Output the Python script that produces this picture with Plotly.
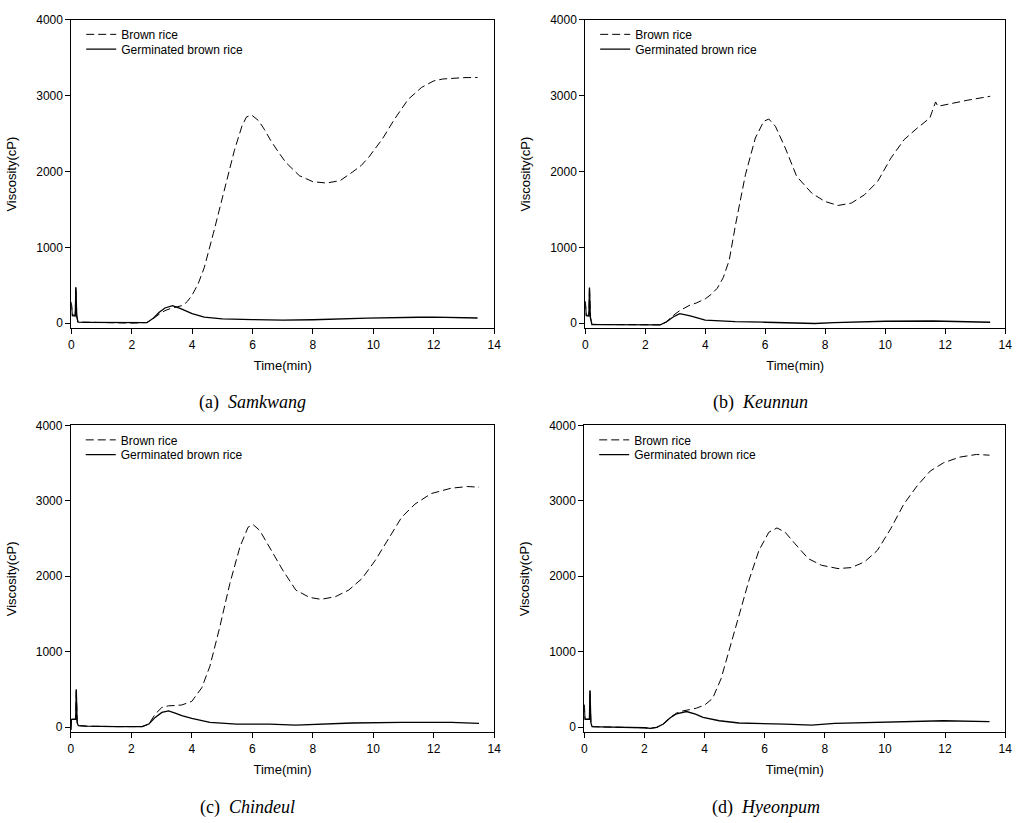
import plotly.graph_objects as go

# ---------------- data ----------------
t_a_br = [0, 0.03, 0.13, 0.15, 0.18, 0.22, 0.5, 1.0, 1.5, 2.0, 2.5, 2.7, 2.9, 3.1, 3.3, 3.5, 3.7, 3.85, 4.0,
          4.2, 4.4, 4.7, 5.0, 5.2, 5.4, 5.65, 5.8, 5.97, 6.2, 6.4, 6.6, 6.85, 7.1, 7.55, 8.0, 8.45, 8.9,
          9.3, 9.6, 9.85, 10.3, 10.7, 11.15, 11.6, 12.0, 12.3, 12.6, 13.0, 13.45]
v_a_br = [280, 110, 105, 480, 95, 15, 12, 10, 5, 0, 8, 55, 115, 165, 195, 210, 235, 290, 370,
          520, 730, 1180, 1650, 1950, 2280, 2600, 2720, 2745, 2670, 2550, 2410, 2260, 2120, 1945, 1865, 1848, 1880,
          1990, 2080, 2190, 2430, 2690, 2950, 3110, 3195, 3220, 3232, 3238, 3240]
t_a_gbr = [0, 0.03, 0.13, 0.15, 0.18, 0.22, 0.5, 1.0, 1.5, 2.0, 2.5, 2.7, 2.9, 3.1, 3.35, 3.6, 3.8, 4.0,
           4.4, 5.0, 6.0, 7.0, 8.0, 8.8, 9.8, 11.5, 12.0, 13.45]
v_a_gbr = [260, 100, 95, 470, 90, 12, 10, 8, 3, -2, 6, 60, 140, 200, 230, 195, 155, 125,
           80, 57, 47, 40, 45, 55, 65, 78, 80, 68]

t_b_br = [0, 0.03, 0.12, 0.14, 0.17, 0.22, 0.5, 1.0, 1.5, 2.0, 2.5, 2.7, 2.93, 3.15, 3.36, 3.5, 3.7, 3.85, 4.0,
          4.2, 4.4, 4.6, 4.8, 5.01, 5.34, 5.67, 5.95, 6.12, 6.34, 6.67, 7.05, 7.55, 7.99, 8.43, 8.87, 9.31, 9.75,
          10.19, 10.63, 11.07, 11.49, 11.57, 11.68, 11.76, 12.18, 12.73, 13.5]
v_b_br = [290, 105, 100, 482, 80, -15, -18, -20, -22, -25, -22, 15, 100, 165, 215, 240, 265, 290, 320,
          380, 460, 600, 830, 1297, 1958, 2441, 2662, 2692, 2596, 2309, 1935, 1715, 1605, 1552, 1583, 1693, 1869,
          2177, 2420, 2573, 2706, 2794, 2917, 2860, 2895, 2939, 2992]
t_b_gbr = [0, 0.03, 0.12, 0.14, 0.17, 0.22, 0.5, 1.0, 1.5, 2.0, 2.5, 2.7, 2.93, 3.15, 3.36, 3.5,
           4.0, 4.5, 5.0, 6.0, 6.7, 7.66, 8.3, 9.0, 10.0, 11.6, 12.5, 13.5]
v_b_gbr = [280, 100, 95, 470, 75, -18, -20, -22, -24, -25, -22, 15, 81, 125, 108, 95,
           40, 28, 20, 12, 8, -5, 8, 15, 25, 28, 22, 12]

t_c_br = [0, 0.02, 0.16, 0.18, 0.21, 0.25, 0.5, 1.0, 1.5, 2.0, 2.36, 2.58, 2.79, 3.01, 3.23, 3.45, 3.67, 4.0, 4.33,
          4.6, 4.93, 5.26, 5.59, 5.86, 6.03, 6.25, 6.57, 7.01, 7.44, 7.89, 8.27, 8.75, 9.19, 9.63, 10.07,
          10.5, 10.94, 11.38, 11.92, 12.58, 13.13, 13.5]
v_c_br = [-40, 105, 105, 509, 60, 18, 12, 6, 5, 5, 5, 39, 171, 259, 281, 285, 292, 340, 520,
          807, 1333, 1904, 2386, 2649, 2684, 2605, 2386, 2079, 1816, 1719, 1693, 1728, 1816, 1969, 2211,
          2496, 2781, 2956, 3096, 3167, 3189, 3180]
t_c_gbr = [0, 0.02, 0.16, 0.18, 0.21, 0.25, 0.5, 1.0, 1.5, 2.0, 2.36, 2.58, 2.79, 3.01, 3.23, 3.45, 3.67, 4.0,
           4.6, 5.48, 6.57, 7.44, 8.2, 9.3, 10.94, 12.58, 13.5]
v_c_gbr = [-40, 100, 100, 500, 55, 18, 12, 6, 5, 5, 5, 39, 127, 193, 213, 185, 150, 114,
           61, 39, 39, 25, 39, 53, 61, 61, 48]

t_d_br = [0, 0.02, 0.17, 0.19, 0.22, 0.26, 0.5, 1.0, 1.5, 2.0, 2.2, 2.41, 2.63, 2.85, 3.07, 3.29, 3.5, 3.73, 4.0,
          4.27, 4.55, 4.82, 5.15, 5.48, 5.81, 6.14, 6.41, 6.68, 7.01, 7.45, 7.89, 8.44, 8.88, 9.32, 9.75,
          10.19, 10.63, 11.07, 11.51, 11.95, 12.49, 13.04, 13.48]
v_d_br = [300, 105, 105, 487, 60, 5, 2, 0, -3, -10, -17, -5, 39, 127, 185, 215, 230, 250, 290,
          380, 640, 1026, 1509, 1947, 2342, 2583, 2640, 2583, 2430, 2233, 2145, 2101, 2114, 2189, 2342,
          2627, 2956, 3197, 3395, 3504, 3579, 3614, 3605]
t_d_gbr = [0, 0.02, 0.17, 0.19, 0.22, 0.26, 0.5, 1.0, 1.5, 2.0, 2.2, 2.41, 2.63, 2.85, 3.07, 3.4, 3.7, 3.95,
           4.49, 5.15, 6.68, 7.56, 8.33, 9.97, 11.95, 13.48]
v_d_gbr = [290, 100, 100, 480, 55, 5, 2, 0, -3, -10, -17, -5, 39, 120, 175, 205, 170, 127,
           83, 53, 39, 25, 48, 61, 83, 70]

series_names = ["Brown rice", "Germinated brown rice"]
panel_labels = ["(a)", "(b)", "(c)", "(d)"]
cultivars = ["Samkwang", "Keunnun", "Chindeul", "Hyeonpum"]
x_ticks = [0, 2, 4, 6, 8, 10, 12, 14]
y_ticks = [0, 1000, 2000, 3000, 4000]
x_title = "Time(min)"
y_title = "Viscosity(cP)"

panels = [
    (t_a_br, v_a_br, t_a_gbr, v_a_gbr),
    (t_b_br, v_b_br, t_b_gbr, v_b_gbr),
    (t_c_br, v_c_br, t_c_gbr, v_c_gbr),
    (t_d_br, v_d_br, t_d_gbr, v_d_gbr),
]

# ---------------- layout geometry ----------------
W, H = 1027, 823
x_doms = [(69 / W, 496 / W), (588 / W, 1012 / W), (68.5 / W, 496 / W), (587 / W, 1012 / W)]
y_doms = [(1 - 325 / H, 1 - 13 / H), (1 - 325 / H, 1 - 13 / H),
          (1 - 733.3 / H, 1 - 423 / H), (1 - 733.3 / H, 1 - 423 / H)]
caption_pos = [(252, 400), (765, 400), (247, 809), (770, 809)]
legend_row_offsets = [0, 15]   # px below plot top for each legend row box

font_sans = "Liberation Sans, Arial, sans-serif"
font_serif = "Liberation Serif, Times New Roman, serif"

fig = go.Figure()
layout = dict(
    width=W, height=H,
    margin=dict(l=0, r=0, t=0, b=0),
    paper_bgcolor="white", plot_bgcolor="white",
    font=dict(family=font_sans, size=12, color="black"),
    showlegend=True,
    annotations=[],
)

styles = [dict(color="black", width=1, dash="8px,4px"), dict(color="black", width=1.3)]
n_leg = 0
for i, (tb, vb, tg, vg) in enumerate(panels):
    k = "" if i == 0 else str(i + 1)
    x0 = x_doms[i][0]
    ytop = y_doms[i][1]
    for j, (tx, vy) in enumerate([(tb, vb), (tg, vg)]):
        n_leg += 1
        lg = "legend" if n_leg == 1 else f"legend{n_leg}"
        fig.add_trace(go.Scatter(x=tx, y=vy, mode="lines", name=series_names[j], showlegend=True,
                                 line=styles[j], xaxis="x" + k, yaxis="y" + k, legend=lg))
        layout[lg] = dict(
            x=x0 + 10 / W, y=ytop - legend_row_offsets[j] / H, xanchor="left", yanchor="top",
            bgcolor="rgba(0,0,0,0)", borderwidth=0, visible=True,
            font=dict(family=font_sans, size=12, color="black"),
            itemwidth=30,
        )
    layout["xaxis" + k] = dict(
        domain=list(x_doms[i]), anchor="y" + k, range=[0, 14],
        tickvals=x_ticks, ticks="outside", ticklen=5, tickwidth=1, tickcolor="black",
        showline=True, linecolor="black", linewidth=1, mirror=True,
        showgrid=False, zeroline=False,
        tickfont=dict(family=font_sans, size=12),
        title=dict(text=x_title, font=dict(family=font_sans, size=13), standoff=10),
    )
    layout["yaxis" + k] = dict(
        domain=list(y_doms[i]), anchor="x" + k, range=[-70, 4000],
        tickvals=y_ticks, ticks="outside", ticklen=5, tickwidth=1, tickcolor="black",
        showline=True, linecolor="black", linewidth=1, mirror=True,
        showgrid=False, zeroline=False,
        tickfont=dict(family=font_sans, size=12),
        title=dict(text=y_title, font=dict(family=font_sans, size=13), standoff=16),
    )
    cx, cy = caption_pos[i]
    layout["annotations"].append(dict(
        text=f"{panel_labels[i]}  <i>{cultivars[i]}</i>",
        x=cx / W, y=1 - cy / H, xref="paper", yref="paper",
        xanchor="center", yanchor="middle", showarrow=False,
        font=dict(family=font_serif, size=18, color="black"),
    ))

fig.update_layout(**layout)
fig.write_html("out.html", config={"displayModeBar": False},
               post_script="document.body.style.margin='0';")
